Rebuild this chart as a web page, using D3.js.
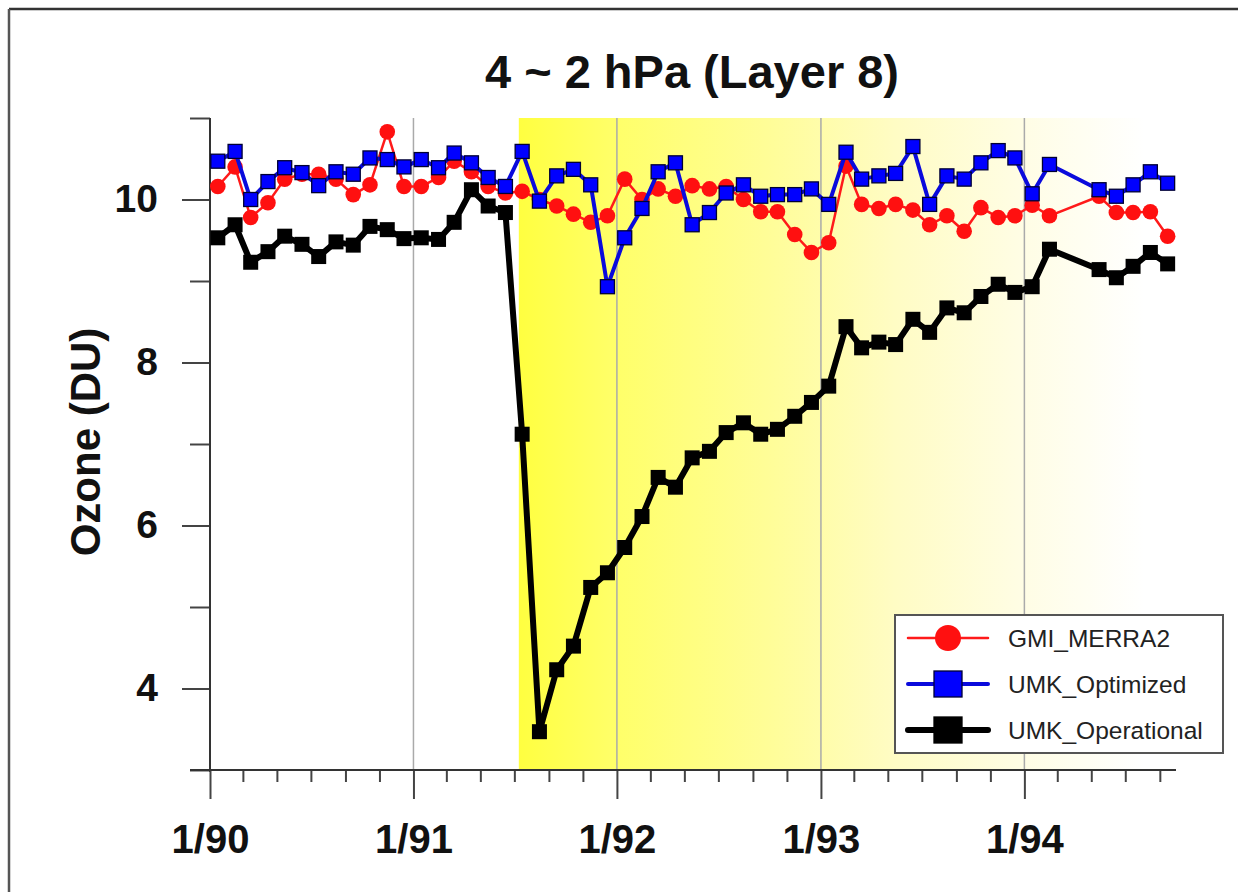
<!DOCTYPE html>
<html><head><meta charset="utf-8">
<script src="https://cdn.jsdelivr.net/npm/d3@7"></script>
<style>
html,body{margin:0;padding:0;background:#fff;}
svg{display:block;font-family:Arial,"Liberation Sans",sans-serif;}
</style></head>
<body>
<svg id="chart" width="1238" height="892"></svg>
<script>
// ---------------- data ----------------
const months = [
 "1990-01","1990-02","1990-03","1990-04","1990-05","1990-06","1990-07","1990-08","1990-09","1990-10","1990-11","1990-12",
 "1991-01","1991-02","1991-03","1991-04","1991-05","1991-06","1991-07","1991-08","1991-09","1991-10","1991-11","1991-12",
 "1992-01","1992-02","1992-03","1992-04","1992-05","1992-06","1992-07","1992-08","1992-09","1992-10","1992-11","1992-12",
 "1993-01","1993-02","1993-03","1993-04","1993-05","1993-06","1993-07","1993-08","1993-09","1993-10","1993-11","1993-12",
 "1994-01","1994-02","1994-05","1994-06","1994-07","1994-08","1994-09"
];
const gmiMerra2 = [
 10.16,10.40,9.78,9.96,10.25,10.31,10.31,10.25,10.06,10.18,10.83,10.16,
 10.16,10.27,10.47,10.34,10.16,10.08,10.10,10.00,9.92,9.82,9.72,9.80,
 10.25,10.00,10.13,10.04,10.17,10.13,10.16,10.00,9.85,9.85,9.57,9.35,
 9.47,10.41,9.94,9.89,9.94,9.87,9.69,9.80,9.61,9.90,9.78,9.80,
 9.93,9.80,10.04,9.84,9.84,9.85,9.55
];
const umkOptimized = [
 10.47,10.59,10.00,10.22,10.39,10.33,10.17,10.34,10.31,10.51,10.49,10.40,
 10.49,10.39,10.57,10.45,10.27,10.16,10.59,9.98,10.29,10.37,10.18,8.93,
 9.53,9.89,10.34,10.45,9.69,9.84,10.08,10.18,10.04,10.06,10.06,10.13,
 9.94,10.58,10.25,10.29,10.32,10.65,9.94,10.29,10.25,10.45,10.60,10.51,
 10.07,10.43,10.12,10.04,10.18,10.34,10.20
];
const umkOperational = [
 9.53,9.69,9.23,9.36,9.55,9.45,9.30,9.48,9.44,9.67,9.63,9.52,
 9.53,9.51,9.72,10.12,9.92,9.84,7.12,3.47,4.23,4.52,5.24,5.42,
 5.73,6.11,6.59,6.47,6.83,6.91,7.14,7.26,7.12,7.18,7.34,7.51,
 7.71,8.44,8.18,8.25,8.22,8.53,8.37,8.67,8.61,8.81,8.96,8.86,
 8.93,9.39,9.14,9.04,9.18,9.35,9.21
];
const yMajorTicks = [4,6,8,10];
const yMinorTicks = [3,5,7,9,11];
const xTickYears = [1990,1991,1992,1993,1994];
const xTickLabels = ["1/90","1/91","1/92","1/93","1/94"];
const seriesNames = ["GMI_MERRA2","UMK_Optimized","UMK_Operational"];
const titleText = "4 ~ 2 hPa (Layer 8)";
const yLabelText = "Ozone (DU)";
const bandStart = "1991-07-09";
const bandEnd = "1994-08-05";

// ---------------- chart ----------------
const svg = d3.select("#chart");
const parseMonth = s => { const [y,m] = s.split("-").map(Number); return new Date(Date.UTC(y, m-1, 15)); };
const parseDay = s => { const [y,m,d] = s.split("-").map(Number); return new Date(Date.UTC(y, m-1, d)); };

const x = d3.scaleUtc().domain([new Date(Date.UTC(1990,0,1)), new Date(Date.UTC(1994,8,30))]).range([210,1176]);
const y = d3.scaleLinear().domain([3,11]).range([770,118]);

// outer frame
svg.append("line").attr("x1",9).attr("x2",1238).attr("y1",9).attr("y2",9).attr("stroke","#333").attr("stroke-width",2.5);
svg.append("line").attr("x1",9).attr("x2",9).attr("y1",9).attr("y2",892).attr("stroke","#555").attr("stroke-width",2.5);

// gradient band
const defs = svg.append("defs");
const grad = defs.append("linearGradient").attr("id","band").attr("x1","0%").attr("x2","100%").attr("y1","0%").attr("y2","0%");
[[0,"#ffff40"],[0.15,"#ffff68"],[0.4,"#fffd98"],[0.6,"#fffcc4"],[0.8,"#fffde4"],[1,"#ffffff"]].forEach(([o,c])=>{
  grad.append("stop").attr("offset",o).attr("stop-color",c);
});
svg.append("rect")
  .attr("x", x(parseDay(bandStart))).attr("y", y(11))
  .attr("width", x(parseDay(bandEnd)) - x(parseDay(bandStart)))
  .attr("height", y(3) - y(11))
  .attr("fill","url(#band)");

// vertical year grid lines
svg.append("g").selectAll("line").data(xTickYears.slice(1)).join("line")
  .attr("x1", d=>x(new Date(Date.UTC(d,0,1)))).attr("x2", d=>x(new Date(Date.UTC(d,0,1))))
  .attr("y1", y(11)).attr("y2", y(3))
  .attr("stroke","#aaaaaa").attr("stroke-width",1.5);

// y axis
const yMajor = svg.append("g").attr("transform","translate(210,0)")
  .call(d3.axisLeft(y).tickValues(yMajorTicks).tickSize(28).tickPadding(24).tickFormat(d3.format("d")));
const yMinor = svg.append("g").attr("transform","translate(210,0)")
  .call(d3.axisLeft(y).tickValues(yMinorTicks).tickSize(20).tickFormat(""));
[yMajor,yMinor].forEach(g=>{
  g.select(".domain").remove();
  g.selectAll(".tick line").attr("stroke","#444").attr("stroke-width",2);
});
yMajor.selectAll(".tick text").attr("font-size",39).attr("font-weight","bold").attr("fill","#111")
  .attr("font-family","Arial,'Liberation Sans',sans-serif");
svg.append("line").attr("x1",210).attr("x2",210).attr("y1",y(11)).attr("y2",y(3)+2).attr("stroke","#333").attr("stroke-width",2);

// x axis
const xMinorDates = [];
for (let yr=1990; yr<=1994; yr++) for (let m=2; m<=10; m+=2) {
  const d = new Date(Date.UTC(yr,m,1)); if (d <= x.domain()[1]) xMinorDates.push(d);
}
const xMajor = svg.append("g").attr("transform","translate(0,770)")
  .call(d3.axisBottom(x).tickValues(xTickYears.map(yv=>new Date(Date.UTC(yv,0,1)))).tickSize(29).tickPadding(26)
    .tickFormat((d,i)=>xTickLabels[i]));
const xMinor = svg.append("g").attr("transform","translate(0,770)")
  .call(d3.axisBottom(x).tickValues(xMinorDates).tickSize(12).tickFormat(""));
[xMajor,xMinor].forEach(g=>{
  g.select(".domain").remove();
  g.selectAll(".tick line").attr("stroke","#444").attr("stroke-width",2);
});
xMajor.selectAll(".tick text").attr("font-size",40).attr("font-weight","bold").attr("fill","#111")
  .attr("font-family","Arial,'Liberation Sans',sans-serif");
svg.append("line").attr("x1",190).attr("x2",1176).attr("y1",770).attr("y2",770).attr("stroke","#333").attr("stroke-width",2);

// series
const dates = months.map(parseMonth);
const mk = vals => vals.map((v,i)=>({d:dates[i], v}));
const line = d3.line().x(p=>x(p.d)).y(p=>y(p.v));

const black = mk(umkOperational), red = mk(gmiMerra2), blue = mk(umkOptimized);

svg.append("path").datum(black).attr("d",line).attr("fill","none").attr("stroke","#000").attr("stroke-width",6).attr("stroke-linejoin","round");
svg.append("g").selectAll("rect").data(black).join("rect")
  .attr("x",p=>x(p.d)-7.5).attr("y",p=>y(p.v)-7.5).attr("width",15).attr("height",15).attr("fill","#000");

svg.append("path").datum(red).attr("d",line).attr("fill","none").attr("stroke","#ff1a1a").attr("stroke-width",2.5);
svg.append("g").selectAll("circle").data(red).join("circle")
  .attr("cx",p=>x(p.d)).attr("cy",p=>y(p.v)).attr("r",7.8).attr("fill","#ff1010");

svg.append("path").datum(blue).attr("d",line).attr("fill","none").attr("stroke","#0a0adc").attr("stroke-width",4).attr("stroke-linejoin","round");
svg.append("g").selectAll("rect").data(blue).join("rect")
  .attr("x",p=>x(p.d)-7).attr("y",p=>y(p.v)-7).attr("width",14).attr("height",14)
  .attr("fill","#0000ff").attr("stroke","#000033").attr("stroke-width",1.3);

// title
svg.append("text").attr("x",692).attr("y",88).attr("text-anchor","middle")
  .attr("font-size",47).attr("font-weight","bold").attr("fill","#111").text(titleText);

// y label
svg.append("text").attr("transform","translate(85,442) rotate(-90)").attr("text-anchor","middle")
  .attr("dominant-baseline","central").attr("font-size",42).attr("font-weight","bold").attr("fill","#111").text(yLabelText);

// legend
const lg = svg.append("g");
lg.append("rect").attr("x",895).attr("y",615).attr("width",328).attr("height",138)
  .attr("fill","#fff").attr("stroke","#555").attr("stroke-width",2);
const rowsY = [638,684,730];
const legendStyles = [
  {stroke:"#ff1a1a", w:2.5, shape:"circle", fill:"#ff1010"},
  {stroke:"#0a0adc", w:4, shape:"square", fill:"#0000ff", border:"#000033"},
  {stroke:"#000", w:6, shape:"square", fill:"#000", border:"#000"}
];
seriesNames.forEach((name,i)=>{
  const st = legendStyles[i], cy = rowsY[i];
  lg.append("line").attr("x1",908).attr("x2",988).attr("y1",cy).attr("y2",cy)
    .attr("stroke",st.stroke).attr("stroke-width",st.w).attr("stroke-linecap","round");
  if (st.shape==="circle") {
    lg.append("circle").attr("cx",948).attr("cy",cy).attr("r",13).attr("fill",st.fill);
  } else {
    lg.append("rect").attr("x",934).attr("y",cy-13).attr("width",28).attr("height",26)
      .attr("fill",st.fill).attr("stroke",st.border).attr("stroke-width",1.3);
  }
  lg.append("text").attr("x",1008).attr("y",cy).attr("dominant-baseline","central")
    .attr("font-size",24.5).attr("fill","#222").text(name);
});
</script>
</body></html>
